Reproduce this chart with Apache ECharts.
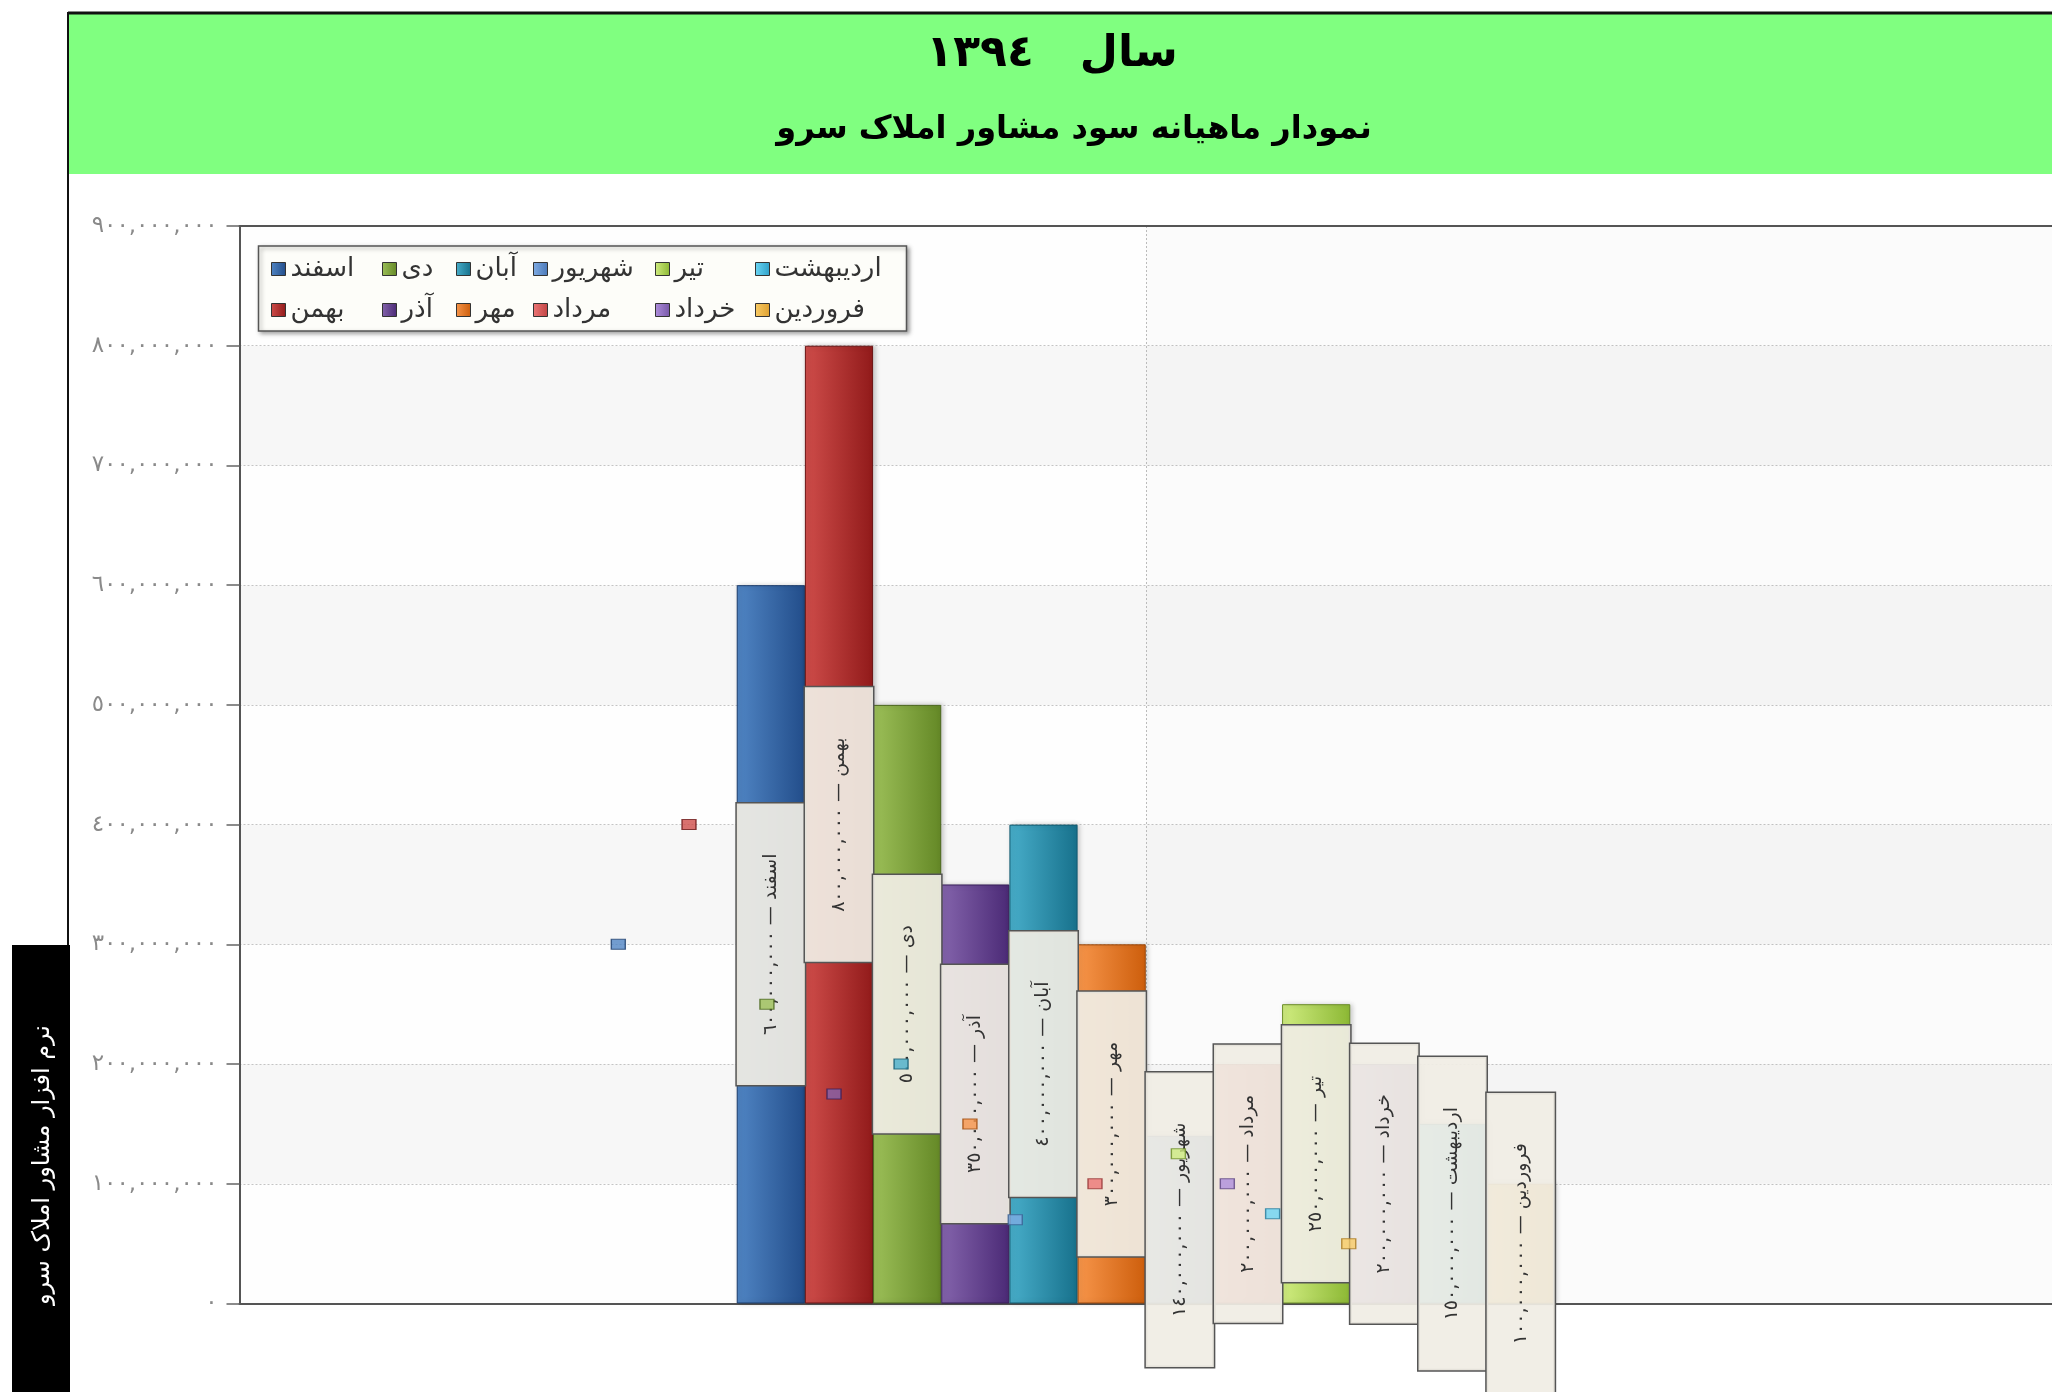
<!DOCTYPE html>
<html><head><meta charset="utf-8">
<script src="https://cdn.jsdelivr.net/npm/echarts@6/dist/echarts.min.js"></script>
<style>html,body{margin:0;padding:0;background:#fff}#c{width:2052px;height:1392px}</style>
</head><body><div id="c"></div>
<script>
// ---- data ----
const months = ['اسفند','بهمن','دی','آذر','آبان','مهر','شهریور','مرداد','تیر','خرداد','اردیبهشت','فروردین'];
const profits = [600000000, 800000000, 500000000, 350000000, 400000000, 300000000, 140000000, 200000000, 250000000, 200000000, 150000000, 100000000];
// small legend-key squares scattered over the plot (x as % of plot width, y as value)
const markerX = [20.9, 24.8, 29.1, 32.8, 36.5, 40.3, 42.8, 47.2, 51.8, 54.5, 57.0, 61.2];
const markerY = [300000000, 400000000, 250000000, 175000000, 200000000, 150000000, 70000000, 100000000, 125000000, 100000000, 75000000, 50000000];
const yTickLabels = ['٠','١٠٠,٠٠٠,٠٠٠','٢٠٠,٠٠٠,٠٠٠','٣٠٠,٠٠٠,٠٠٠','٤٠٠,٠٠٠,٠٠٠','٥٠٠,٠٠٠,٠٠٠','٦٠٠,٠٠٠,٠٠٠','٧٠٠,٠٠٠,٠٠٠','٨٠٠,٠٠٠,٠٠٠','٩٠٠,٠٠٠,٠٠٠'];
const legendColumns = [['اسفند','بهمن'],['دی','آذر'],['آبان','مهر'],['شهریور','مرداد'],['تیر','خرداد'],['اردیبهشت','فروردین']];
const titleLine1 = 'سال   ١٣٩٤';
const titleLine2 = 'نمودار ماهیانه سود مشاور املاک سرو';
const sideText = 'نرم افزار مشاور املاک سرو';

// ---- styles ----
const palette = {
  'اسفند':['#5085c4','#224d8a','#1b3c6c'],
  'بهمن':['#cf4d4a','#911a1a','#6a1414'],
  'دی':['#9cbf58','#648826','#4a661c'],
  'آذر':['#8464ac','#4b2a76','#381f59'],
  'آبان':['#48aeca','#17718c','#125a70'],
  'مهر':['#f7954a','#cd5e0c','#9c4708'],
  'شهریور':['#80ace4','#4a78b8','#3a5f92'],
  'مرداد':['#ec7676','#c24444','#923232'],
  'تیر':['#d0ec80','#8cb834','#6a8c26'],
  'خرداد':['#ae8edc','#7858a8','#5a4280'],
  'اردیبهشت':['#6cd6f4','#2ea0c8','#22789a'],
  'فروردین':['#f9cc66','#dea030','#a87820']
};
const FONT = 'DejaVu Sans';
const toArabic = n => String(n).replace(/\B(?=(\d{3})+(?!\d))/g, ',').replace(/\d/g, d => '٠١٢٣٤٥٦٧٨٩'[+d]);

const gridLeft = 239.5, gridTop = 226, gridW = 1818, gridH = 1077.5;
const legendColLeft = [266, 377, 451, 528, 650, 750];

const barSeries = months.map((m, i) => ({
  name: m, type: 'bar', xAxisIndex: 0, yAxisIndex: 0,
  barWidth: 68.17, barGap: '0%',
  data: [profits[i]],
  itemStyle: {
    color: {type:'linear', x:0, y:0, x2:1, y2:0, colorStops:[{offset:0,color:palette[m][0]},{offset:1,color:palette[m][1]}]},
    borderColor: palette[m][2], borderWidth: 1,
    shadowColor: 'rgba(0,0,0,0.22)', shadowBlur: 5, shadowOffsetX: 2
  },
  label: {
    show: true, position: 'inside', rotate: 90,
    formatter: p => p.seriesName + ' — ' + toArabic(p.value),
    fontFamily: FONT, fontSize: 19, color: '#333', lineHeight: 22,
    backgroundColor: 'rgba(240,237,228,0.93)', borderColor: '#555', borderWidth: 1.5,
    padding: [23, 50, 23, 50]
  },
  emphasis: {disabled: true}
}));

const markerSeries = {
  name: 'markers', type: 'scatter', xAxisIndex: 1, yAxisIndex: 0, z: 10,
  symbol: 'rect', symbolSize: [14, 10],
  data: markerX.map((x, i) => ({
    value: [x, markerY[i]],
    itemStyle: {color: palette[months[i]][0], borderColor: palette[months[i]][2], borderWidth: 1.2}
  })),
  emphasis: {disabled: true}, silent: true
};

const legends = legendColumns.map((col, k) => ({
  data: col, orient: 'vertical', left: legendColLeft[k], top: 249,
  icon: 'rect', itemWidth: 14, itemHeight: 13, itemGap: 11,
  itemStyle: {borderColor: '#333', borderWidth: 1},
  textStyle: {fontFamily: FONT, fontSize: 26, color: '#333', lineHeight: 30, padding: [0,0,0,0]},
  selectedMode: false, z: 6
}));

const option = {
  animation: false,
  backgroundColor: '#ffffff',
  grid: {left: gridLeft, top: gridTop, width: gridW, height: gridH, containLabel: false},
  legend: legends,
  xAxis: [
    {type: 'category', data: [''], position: 'bottom',
     axisLine: {show: true, lineStyle: {color: '#555', width: 2}},
     axisTick: {show: true, alignWithLabel: true, length: 10, lineStyle: {color: '#555', width: 2}},
     axisLabel: {show: false}, splitLine: {show: false}},
    {type: 'value', min: 0, max: 100, interval: 50, position: 'top',
     axisLine: {show: true, onZero: false, lineStyle: {color: '#555', width: 2}},
     axisTick: {show: false}, axisLabel: {show: false},
     splitLine: {show: true, lineStyle: {color: '#bbb', type: [2, 2], width: 1}},
     splitArea: {show: true, areaStyle: {color: ['rgba(0,0,0,0)', 'rgba(0,0,0,0.012)']}}}
  ],
  yAxis: {
    type: 'value', min: 0, max: 900000000, interval: 100000000,
    axisLine: {show: true, lineStyle: {color: '#555', width: 2}},
    axisTick: {show: true, length: 13, lineStyle: {color: '#666', width: 1.5}},
    axisLabel: {margin: 22, fontFamily: FONT, fontSize: 23, color: '#8a8a8a',
      formatter: v => yTickLabels[Math.round(v / 100000000)]},
    splitLine: {show: true, lineStyle: {color: '#c4c4c4', type: [2, 2], width: 1}},
    splitArea: {show: true, areaStyle: {color: ['#fefefe', '#f7f7f7']}}
  },
  graphic: [
    {type: 'rect', z: -10, shape: {x: 68, y: 14, width: 1990, height: 160}, style: {fill: '#80ff80'}},
    {type: 'line', z: -5, shape: {x1: 68, y1: 13, x2: 2052, y2: 13}, style: {stroke: '#111', lineWidth: 3}},
    {type: 'line', z: -5, shape: {x1: 68, y1: 12, x2: 68, y2: 946}, style: {stroke: '#111', lineWidth: 2}},
    {type: 'rect', z: -5, shape: {x: 12, y: 945, width: 58, height: 447}, style: {fill: '#000'}},
    {type: 'text', z: 1, x: 43, y: 1165, rotation: Math.PI / 2,
     style: {text: sideText, fill: '#fff', font: '24px "DejaVu Sans"', textAlign: 'center', textVerticalAlign: 'middle'}},
    {type: 'text', z: 1, x: 1052, y: 55,
     style: {text: titleLine1, fill: '#000', font: 'bold 44px "DejaVu Sans"', textAlign: 'center', textVerticalAlign: 'middle'}},
    {type: 'text', z: 1, x: 1074, y: 130,
     style: {text: titleLine2, fill: '#000', font: 'bold 32px "DejaVu Sans"', textAlign: 'center', textVerticalAlign: 'middle'}},
    {type: 'rect', z: 5, shape: {x: 258.5, y: 246, width: 648, height: 85},
     style: {fill: '#fdfdf9', stroke: '#555', lineWidth: 1.5, shadowColor: 'rgba(0,0,0,0.35)', shadowBlur: 4, shadowOffsetX: 2, shadowOffsetY: 2}}
  ],
  series: [...barSeries, markerSeries]
};

const chart = echarts.init(document.getElementById('c'), null, {renderer: 'canvas'});
chart.setOption(option);
</script>
</body></html>
